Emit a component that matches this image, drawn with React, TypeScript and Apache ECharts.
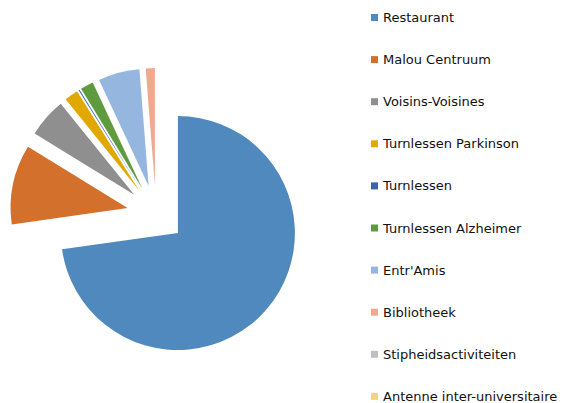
import React, { useEffect, useRef } from "react";
import * as echarts from "echarts";

const categories = [
  "Restaurant",
  "Malou Centruum",
  "Voisins-Voisines",
  "Turnlessen Parkinson",
  "Turnlessen",
  "Turnlessen Alzheimer",
  "Entr'Amis",
  "Bibliotheek",
  "Stipheidsactiviteiten",
  "Antenne inter-universitaire",
];
const values = [72.7, 11.0, 5.4, 1.9, 0.15, 1.8, 5.7, 1.25, 0, 0];
const colors = [
  "#4F89BD",
  "#D3702C",
  "#8F8F8F",
  "#E1A800",
  "#3F62AC",
  "#5F9A3F",
  "#95B7DF",
  "#F1A98E",
  "#BFBFBF",
  "#FED17F",
];

export default function App() {
  const ref = useRef<HTMLDivElement>(null);
  useEffect(() => {
    document.body.style.margin = "0";
    const chart = echarts.init(ref.current!, null, { renderer: "svg" });
    chart.setOption({
      animation: false,
      backgroundColor: "#ffffff",
      legend: {
        orient: "vertical",
        left: 371,
        top: 11,
        height: 430,
        padding: 0,
        itemWidth: 7,
        itemHeight: 7,
        itemGap: 29.1,
        itemTextGap: 4,
        icon: "rect",
        selectedMode: false,
        data: categories,
        textStyle: {
          fontFamily: "DejaVu Sans, sans-serif",
          fontSize: 13,
          lineHeight: 13,
          color: "#111111",
        },
      },
      series: [
        {
          type: "pie",
          center: [156, 214],
          radius: [0, 117],
          startAngle: 90,
          clockwise: true,
          selectedMode: "multiple",
          selectedOffset: 29,
          label: { show: false },
          labelLine: { show: false },
          emphasis: { disabled: true },
          itemStyle: { borderWidth: 0 },
          data: categories.map((name, i) => ({
            name,
            value: values[i],
            selected: true,
            itemStyle: { color: colors[i] },
          })),
        },
      ],
    });
    return () => chart.dispose();
  }, []);
  return (
    <div
      ref={ref}
      style={{ position: "absolute", left: 0, top: 0, width: 580, height: 403 }}
    />
  );
}
